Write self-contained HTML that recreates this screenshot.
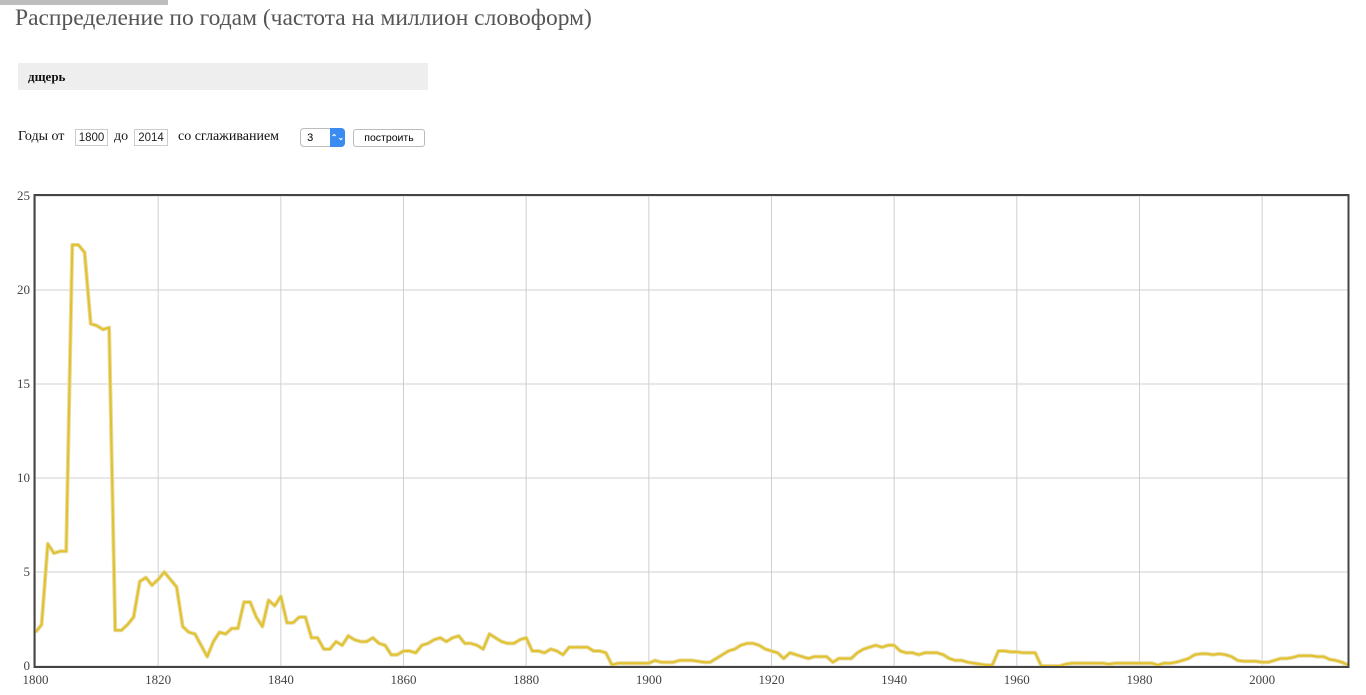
<!DOCTYPE html>
<html><head><meta charset="utf-8">
<style>
body{margin:0;width:1366px;height:695px;background:#fff;font-family:"Liberation Serif","DejaVu Serif",serif;position:relative;overflow:hidden}
.abs{position:absolute}
#topbar{left:0;top:0;width:168px;height:5px;background:#bdbdbd}
#title{left:15px;top:5px;font-size:23.5px;color:#555;white-space:nowrap}
#query{left:18px;top:63px;width:410px;height:27px;background:#eeeeee}
#query span{position:absolute;left:10px;top:6px;font-size:13px;font-weight:bold;color:#111}
.lbl{font-size:14px;color:#111;white-space:nowrap;top:129px}
.inp{top:129px;height:17px;border:1px solid #ccc;font-family:"Liberation Sans",sans-serif;font-size:11.5px;line-height:17px;text-align:center;box-sizing:border-box;color:#222}
.sel{top:128px;width:45px;height:19px;border:1px solid #bbb;border-radius:4px;font-family:"Liberation Sans",sans-serif;font-size:11px;line-height:18px;box-sizing:border-box}
.sel b{position:absolute;right:-1px;top:-1px;width:15px;height:19px;background:#3b8cf0;border-radius:0 4px 4px 0;color:#fff;font-size:8px;text-align:center;line-height:19px}
.btn{top:129px;width:72px;height:18px;border:1px solid #bbb;border-radius:3px;font-family:"Liberation Sans",sans-serif;font-size:10.5px;line-height:16px;text-align:center;background:#fff;box-sizing:border-box}
</style></head><body>
<div class="abs" id="topbar"></div>
<div class="abs" id="title">Распределение по годам (частота на миллион словоформ)</div>
<div class="abs" id="query"><span>дщерь</span></div>
<div class="abs lbl" style="left:18px">Годы от</div>
<div class="abs inp" style="left:75px;width:33px">1800</div>
<div class="abs lbl" style="left:114px">до</div>
<div class="abs inp" style="left:134px;width:34px">2014</div>
<div class="abs lbl" style="left:178px">со сглаживанием</div>
<div class="abs sel" style="left:300px">&nbsp; 3<b>⌃⌄</b></div>
<div class="abs btn" style="left:353px">построить</div>
<svg class="abs" style="left:0;top:0" width="1366" height="695" id="chart"></svg>
<script>
const yearStart = 1800;
const xTicks = [1800,1820,1840,1860,1880,1900,1920,1940,1960,1980,2000];
const yTicks = [0,5,10,15,20,25];
const values = [
1.8,2.2,6.5,6.0,6.1,6.1,22.4,22.4,22.0,18.2,
18.1,17.9,18.0,1.9,1.9,2.2,2.6,4.5,4.7,4.3,
4.6,5.0,4.6,4.2,2.1,1.8,1.7,1.1,0.5,1.3,
1.8,1.7,2.0,2.0,3.4,3.4,2.6,2.1,3.5,3.2,
3.7,2.3,2.3,2.6,2.6,1.5,1.5,0.9,0.9,1.3,
1.1,1.6,1.4,1.3,1.3,1.5,1.2,1.1,0.6,0.6,
0.8,0.8,0.7,1.1,1.2,1.4,1.5,1.3,1.5,1.6,
1.2,1.2,1.1,0.9,1.7,1.5,1.3,1.2,1.2,1.4,
1.5,0.8,0.8,0.7,0.9,0.8,0.6,1.0,1.0,1.0,
1.0,0.8,0.8,0.7,0.05,0.15,0.15,0.15,0.15,0.15,
0.15,0.3,0.2,0.2,0.2,0.3,0.3,0.3,0.25,0.2,
0.2,0.4,0.6,0.8,0.9,1.1,1.2,1.2,1.1,0.9,
0.8,0.7,0.4,0.7,0.6,0.5,0.4,0.5,0.5,0.5,
0.2,0.4,0.4,0.4,0.7,0.9,1.0,1.1,1.0,1.1,
1.1,0.8,0.7,0.7,0.6,0.7,0.7,0.7,0.6,0.4,
0.3,0.3,0.2,0.15,0.1,0.05,0.05,0.8,0.8,0.75,
0.75,0.7,0.7,0.7,0.0,0.0,0.0,0.0,0.1,0.15,
0.15,0.15,0.15,0.15,0.15,0.1,0.15,0.15,0.15,0.15,
0.15,0.15,0.15,0.05,0.15,0.15,0.2,0.3,0.4,0.6,
0.65,0.65,0.6,0.65,0.6,0.5,0.3,0.25,0.25,0.25,
0.2,0.2,0.3,0.4,0.4,0.45,0.55,0.55,0.55,0.5,
0.5,0.35,0.3,0.2,0.05
];
const NS="http://www.w3.org/2000/svg";
const svg=document.getElementById('chart');
const L=35.5,R=1348,T=196,B=666,yMax=25,yEnd=2014;
const xs=y=>L+(y-yearStart)*(R-L)/(yEnd-yearStart);
const ys=v=>B-v*(B-T)/yMax;
function mk(tag,attrs){const e=document.createElementNS(NS,tag);for(const k in attrs)e.setAttribute(k,attrs[k]);svg.appendChild(e);return e;}
xTicks.forEach(t=>{
  const g=mk('line',{x1:xs(t),x2:xs(t),y1:T,y2:B,stroke:'#d0d0d0','stroke-width':1});
  
  
  const tx=mk('text',{x:xs(t),y:684,'text-anchor':'middle','font-size':13,fill:'#444','font-family':'Liberation Serif, serif'});
  tx.textContent=t;
  
  
});
yTicks.forEach(t=>{
  const g=mk('line',{x1:L,x2:R,y1:ys(t),y2:ys(t),stroke:'#d0d0d0','stroke-width':1});
  
  
  const tx=mk('text',{x:30,y:ys(t)+4,'text-anchor':'end','font-size':13,fill:'#444','font-family':'Liberation Serif, serif'});
  tx.textContent=t;
  
  
});
const pts=values.map((v,i)=>xs(yearStart+i).toFixed(1)+','+ys(v).toFixed(1)).join(' ');
const sh=mk('polyline',{points:pts,fill:'none',stroke:'#e8dca0','stroke-width':4,'stroke-linejoin':'round'});


const ln=mk('polyline',{points:pts,fill:'none',stroke:'#e2c12f','stroke-width':2,'stroke-linejoin':'round'});


const fr=mk('rect',{x:34.5,y:195,width:1314,height:472,fill:'none',stroke:'#444','stroke-width':2});


</script>
</body></html>
